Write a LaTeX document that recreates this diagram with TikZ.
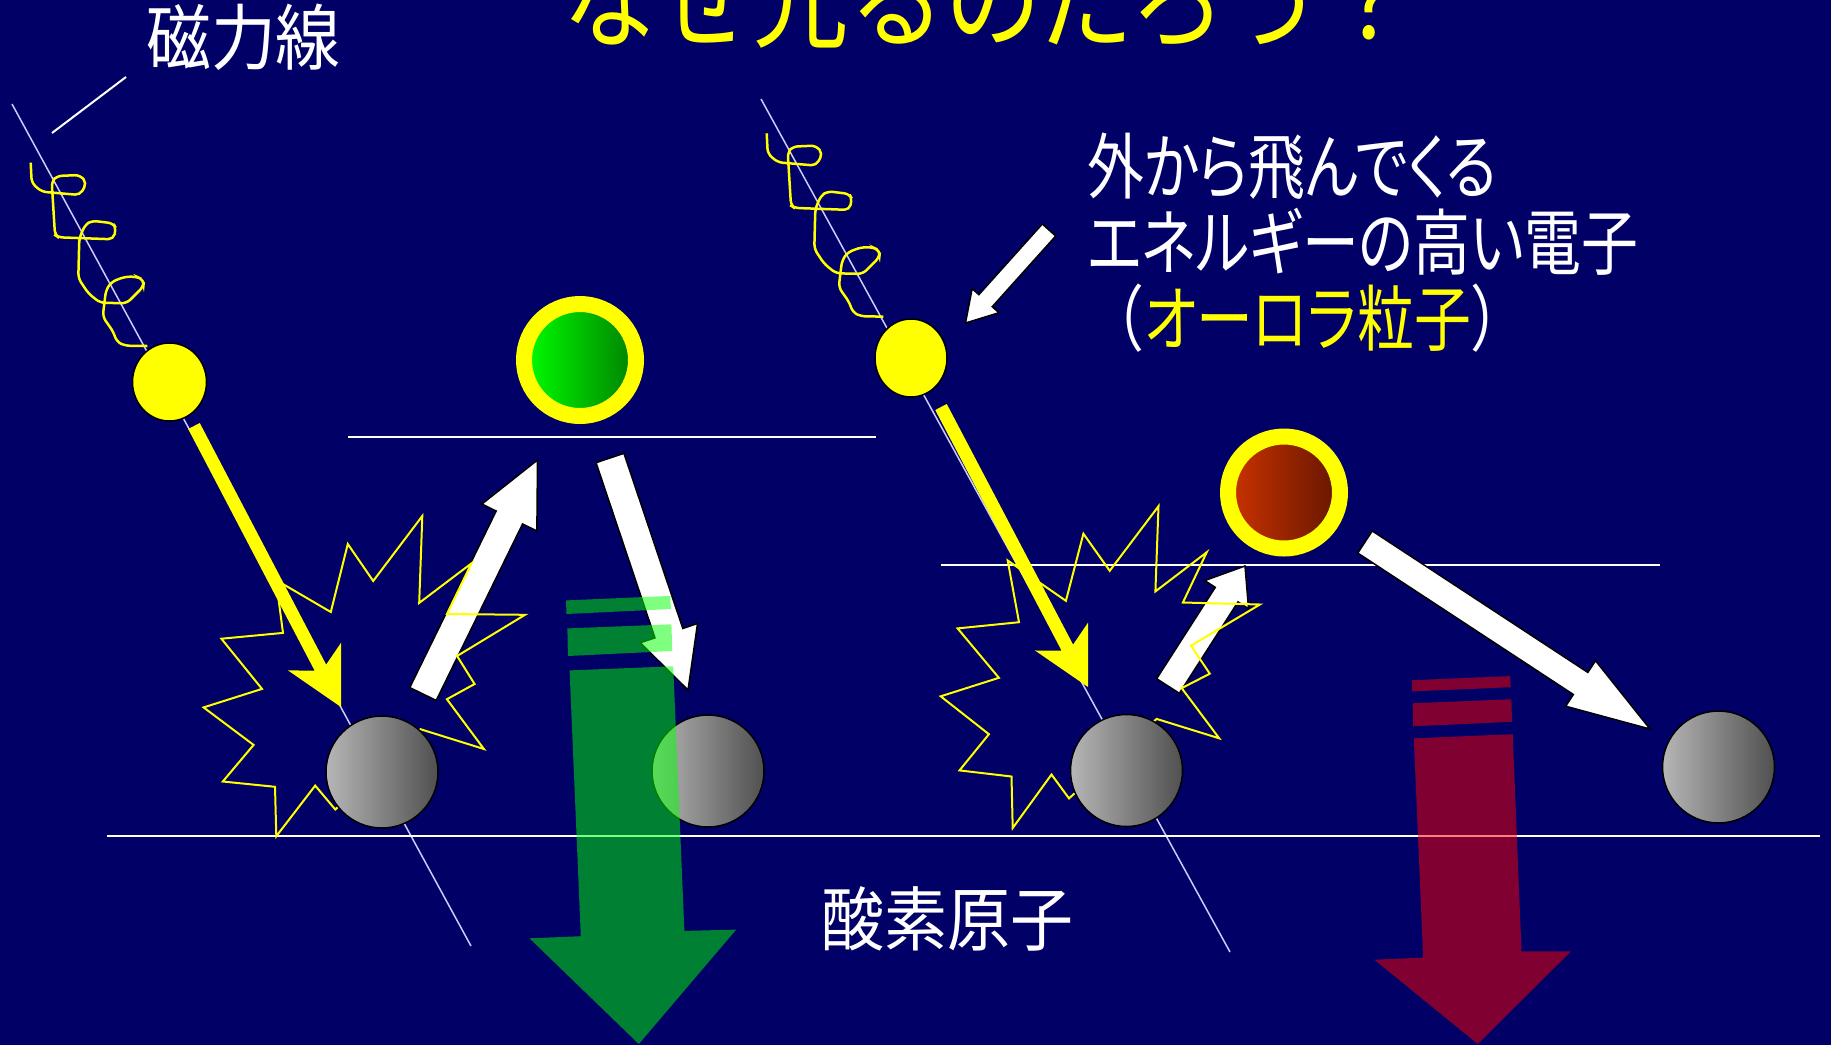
\documentclass[tikz,border=0pt]{standalone}
\usepackage{fontspec}
\setmainfont{Noto Sans CJK JP}
\newfontfamily\titlefont{Noto Sans CJK JP}[FakeStretch=0.87]
\newfontfamily\kanjifont{Noto Sans CJK JP}[FakeStretch=0.9]
\newfontfamily\kanafont{Noto Sans CJK JP}[RawFeature={+palt}, FakeStretch=0.79]
\newfontfamily\parenfont{Noto Sans CJK JP}[FakeStretch=0.79]
\usepackage{tikz}
\usetikzlibrary{
    calc,
    shapes.geometric
}
\definecolor{night}{RGB}{0,0,102}
\definecolor{sunny}{RGB}{255,255,0}
\definecolor{fieldblue}{RGB}{204,204,255}
\definecolor{greenlight}{RGB}{0,255,0}
\definecolor{greendark}{RGB}{0,128,0}
\definecolor{redlight}{RGB}{204,51,0}
\definecolor{reddark}{RGB}{100,22,0}
\definecolor{atomlight}{RGB}{182,182,182}
\definecolor{atomdark}{RGB}{80,80,80}
\definecolor{glowgreen}{RGB}{0,255,0}
\definecolor{glowred}{RGB}{255,0,0}

% block arrow: [style]{tail}{tip}{half shaft}{head length}{half head}{notch}
\newcommand{\blockarrow}[7][]{%
    \pgfmathsetmacro\bajoin{#5-#7*(#6-#4)/#6}%
    \coordinate (ba join) at ($(#3)!\bajoin pt!(#2)$);
    \coordinate (ba back) at ($(#3)!#5pt!(#2)$);
    \path[#1] ($(#2)!#4pt!90:(#3)$) -- ($(ba join)!#4pt!90:(#3)$)
        -- ($(ba back)!#6pt!90:(#3)$) -- (#3)
        -- ($(ba back)!#6pt!-90:(#3)$) -- ($(ba join)!#4pt!-90:(#3)$)
        -- ($(#2)!#4pt!-90:(#3)$) -- cycle;
}

\tikzset{
    field line/.style={draw=fieldblue, line width=1.5pt},
    energy level/.style={draw=white, line width=2pt},
    spiral path/.style={draw=sunny, line width=2.5pt, rounded corners=5pt},
    electron ball/.style={
        ellipse,
        draw=black,
        line width=1.5pt,
        fill=sunny,
        minimum width=74pt,
        minimum height=78pt,
        inner sep=0pt
    },
    excited atom/.style 2 args={
        circle,
        draw=sunny,
        line width=16pt,
        minimum size=112pt,
        inner sep=0pt,
        left color=#1,
        right color=#2
    },
    oxygen atom/.style={
        circle,
        draw=black,
        line width=1.5pt,
        left color=atomlight,
        right color=atomdark,
        minimum size=112pt,
        inner sep=0pt
    },
    burst line/.style={draw=sunny, line width=2pt},
    kick arrow/.style={fill=sunny},
    jump arrow/.style={fill=white, draw=black, line width=1.5pt},
    emission/.style={fill=#1, fill opacity=0.5},
    jp caption/.style={
        text=white,
        font=\kanjifont\fontsize{72}{76}\selectfont,
        inner sep=0pt,
        align=left
    },
    headline/.style={
        text=sunny,
        font=\titlefont\fontsize{110}{130}\selectfont,
        inner sep=0pt
    },
    gyration/.pic={
        \draw[spiral path] (30.7,162.7) -- (31.7,183) -- (41.7,191.7) -- (80,195)
            -- (86.7,183) -- (80,175) -- (56.7,176) -- (51.7,181.7) -- (55,235)
            -- (58.3,237.3) -- (113.3,239.3) -- (116,228.3) -- (113.3,223.3)
            -- (91.7,220.7) -- (85,225) -- (79.3,238.3) -- (78.3,278.3)
            -- (88.3,293.3) -- (100,302.7) -- (126.7,303.3) -- (143.3,286.7)
            -- (144,280) -- (136.7,276.7) -- (125,276.7) -- (111.7,281.7)
            -- (106,290) -- (102.7,316.7) -- (113.3,331.7) -- (116.7,341.7)
            -- (125,345.7) -- (147.3,346);
    }
}

\begin{document}
\begin{tikzpicture}[x=1pt, y=-1pt]
\useasboundingbox (0,0) rectangle (1831,1045);
\fill[night] (0,0) rectangle (1831,1045);

% Field lines and gyrating electrons
\draw[field line] (12,104) -- (471,946);
\draw[field line] (761,99) -- (1230,952);
\pic at (0,0) {gyration};
\pic at (736,-29.4) {gyration};

% Energy levels
\draw[energy level] (107,836) -- (1820,836);
\draw[energy level] (348,437) -- (876,437);
\draw[energy level] (941,565) -- (1660,565);

% Captions
\node[headline, anchor=base west] (question) at (562,39) {なぜ光るのだろう？};
\node[jp caption, anchor=base west] (fieldname) at (146,64) {磁力線};
\node[jp caption, font=\kanafont\fontsize{72}{76}\selectfont, anchor=base west] (incoming) at (1087,345)
    {外から飛んでくる\\エネルギーの高い電子\\{\parenfont （}\textcolor{sunny}{オーロラ粒子}{\parenfont ）}};
\node[jp caption, font=\kanjifont\fontsize{70}{76}\selectfont, anchor=base west] (oxyname) at (821,945) {酸素原子};

\coordinate (pointer top) at (126,77);
\coordinate (pointer end) at (52,133);
\draw[white, line width=2pt] (pointer top) -- (pointer end);

% Incoming electrons
\node[electron ball] (elecA) at (169.5,382) {};
\node[electron ball, minimum width=72pt] (elecB) at (911,358) {};

% Excited oxygen
\node[excited atom={greenlight}{greendark}] (exciteA) at (580,360) {};
\node[excited atom={redlight}{reddark}] (exciteB) at (1284,492.5) {};

% Jumps up and down
\coordinate (upA tail) at (423,694);
\coordinate (upA tip) at (537.5,460);
\coordinate (downA tail) at (610,458);
\coordinate (downA tip) at (688,690);
\coordinate (hint tail) at (1049,230);
\coordinate (hint tip) at (965.5,323);
\coordinate (upB tail) at (1168,686);
\coordinate (upB tip) at (1245,566);
\coordinate (downB tail) at (1365,542);
\coordinate (downB tip) at (1650,729);
\blockarrow[jump arrow]{upA tail}{upA tip}{14.7}{64}{30.6}{0}
\blockarrow[jump arrow]{downA tail}{downA tip}{14.7}{60}{30.2}{0}
\blockarrow[jump arrow]{hint tail}{hint tip}{9}{30}{18}{0}
\blockarrow[jump arrow]{upB tail}{upB tip}{13.5}{34}{26}{0}
\blockarrow[jump arrow]{downB tail}{downB tip}{13.2}{83}{27.2}{0}

% Collision flashes
\draw[burst line] (276.3,836.2) -- (275,786.8) -- (222.8,781.5) -- (253.6,744.9)
    -- (203.6,707.4) -- (262,688.9) -- (221.4,638.7) -- (283,632.9) -- (276,580)
    -- (330.8,612) -- (347.8,544) -- (373.2,581) -- (422.3,516) -- (419.2,602.9)
    -- (471.4,563.4) -- (446.9,614) -- (525,614.8) -- (457.1,656) -- (474.6,684)
    -- (446.9,699.2) -- (483.9,749) -- (420.5,729.2) -- (335.3,809.5)
    -- (315.2,785.6) -- cycle;
\draw[burst line] (1012.7,828) -- (1011.5,776.5) -- (959.5,770.4) -- (988.9,734.2)
    -- (940.7,696.3) -- (998.9,677.8) -- (957.6,628.4) -- (1019,622.2)
    -- (1007.7,560.5) -- (1065.9,600.8) -- (1083.4,533.7) -- (1109.7,570.8)
    -- (1158.5,506.2) -- (1155.4,591.4) -- (1206.7,552.3) -- (1182.9,602.5)
    -- (1259.9,604.5) -- (1191,645.7) -- (1209.8,673.7) -- (1181.7,688.1)
    -- (1219.2,738.3) -- (1156.6,718.9) -- (1069,798.4) -- (1051.5,774.5) -- cycle;

% Electron hits
\coordinate (hitA tail) at (194,426);
\coordinate (hitA tip) at (341,707);
\coordinate (hitB tail) at (941,407);
\coordinate (hitB tip) at (1088,687);
\blockarrow[kick arrow]{hitA tail}{hitA tip}{6.5}{57}{30}{16}
\blockarrow[kick arrow]{hitB tail}{hitB tip}{6.5}{57}{30}{16}

% Ground-state oxygen
\node[oxygen atom] (oxyA) at (382,772) {};
\node[oxygen atom] (oxyB) at (708,771) {};
\node[oxygen atom] (oxyC) at (1126.5,770.5) {};
\node[oxygen atom] (oxyD) at (1718.5,767) {};

% Emitted light
\fill[emission=glowgreen]
    (566,600.4) -- (670.1,595.9) -- (671,609) -- (566.5,614) -- cycle
    (567.4,628.4) -- (671.4,624.3) -- (672.3,651) -- (567.9,656) -- cycle
    (569.6,670.4) -- (673.2,666.3) -- (684.4,930.9) -- (736.2,929.6)
    -- (638.8,1044) -- (529.5,938.3) -- (580.8,936.2) -- cycle;
\fill[emission=glowred]
    (1412,680.2) -- (1510.2,676.1) -- (1510.8,687.2) -- (1412,691.4) -- cycle
    (1412.6,703.3) -- (1511.4,699.2) -- (1512,721.8) -- (1413.2,726.3) -- cycle
    (1413.8,738.3) -- (1512.7,734.2) -- (1521.5,951.4) -- (1570.9,951.4)
    -- (1477.7,1044) -- (1374.4,959.7) -- (1423.2,957.6) -- cycle;
\end{tikzpicture}
\end{document}
